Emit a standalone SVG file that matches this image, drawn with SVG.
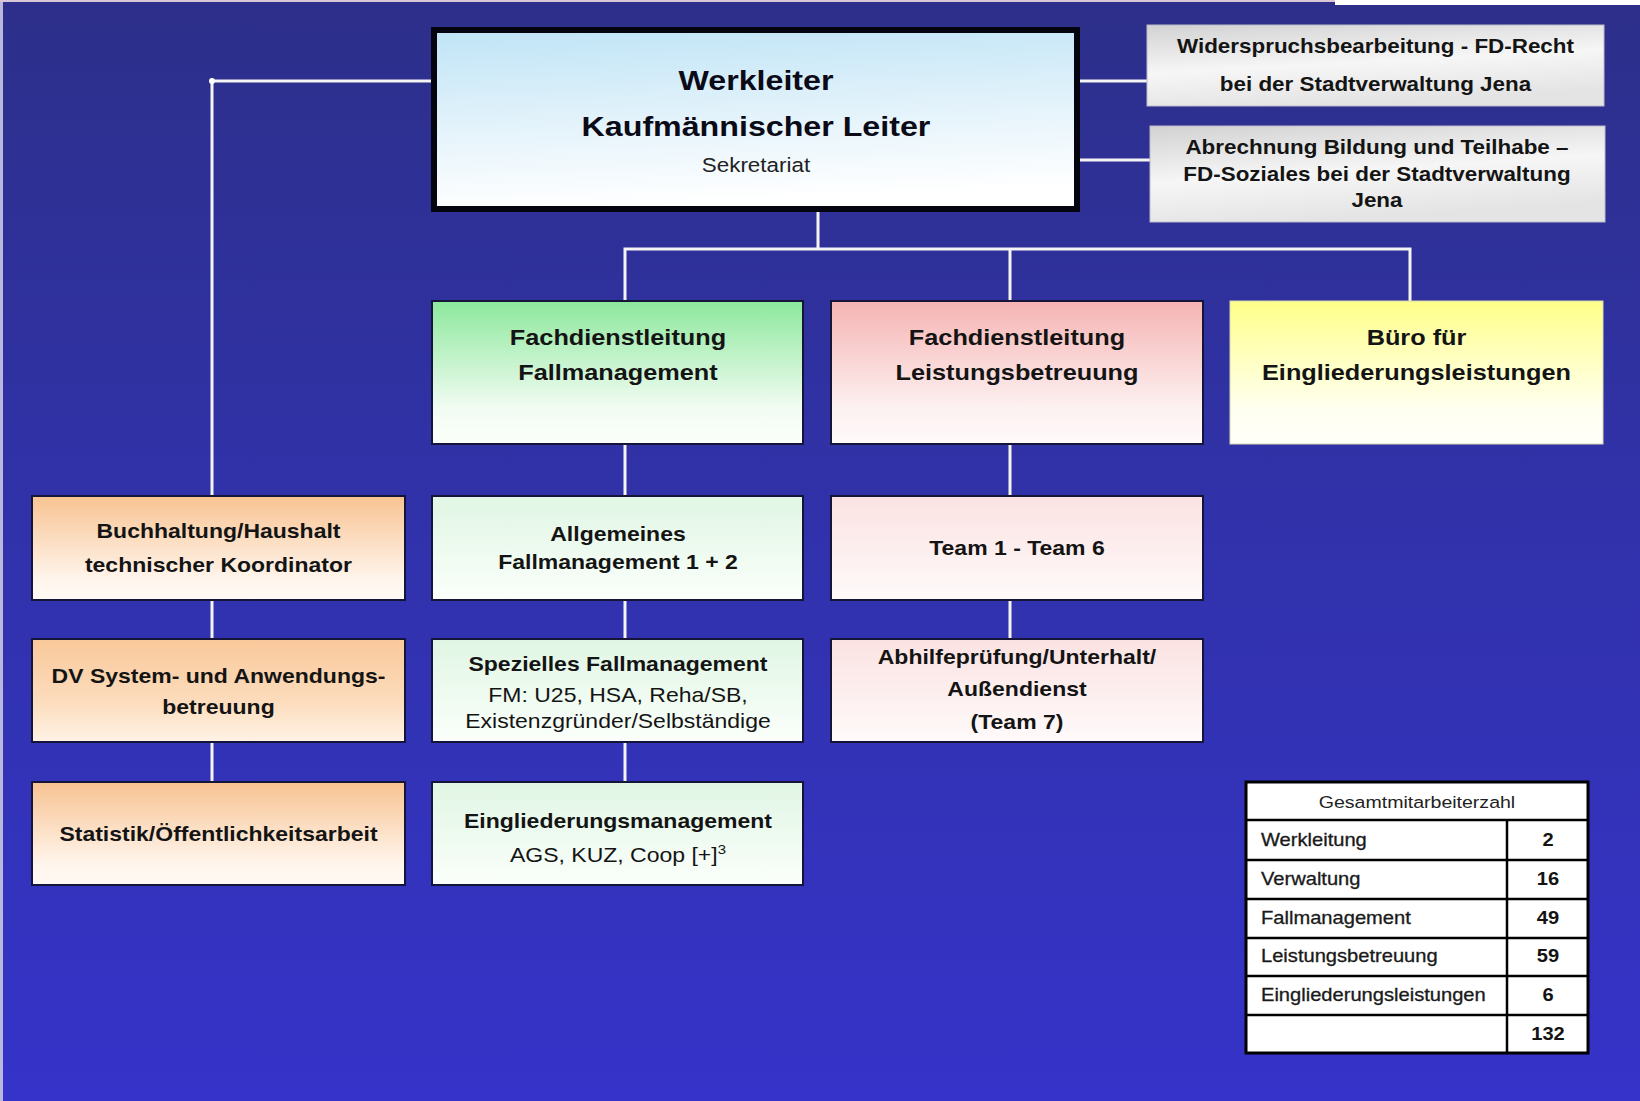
<svg xmlns="http://www.w3.org/2000/svg" width="1640" height="1101" viewBox="0 0 1640 1101">
<defs>
<linearGradient id="bg" x1="0" y1="0" x2="0" y2="1">
<stop offset="0" stop-color="#2d2f8a"/>
<stop offset="0.5" stop-color="#3132ac"/>
<stop offset="1" stop-color="#3533c9"/>
</linearGradient>
<linearGradient id="gBlue" x1="0" y1="0" x2="0.15" y2="1">
<stop offset="0" stop-color="#bfe4f6"/>
<stop offset="0.55" stop-color="#e4f3fb"/>
<stop offset="1" stop-color="#ffffff"/>
</linearGradient>
<linearGradient id="gGray" x1="0" y1="0" x2="0.3" y2="1">
<stop offset="0" stop-color="#d2d2d2"/>
<stop offset="0.55" stop-color="#f6f6f6"/>
<stop offset="1" stop-color="#e4e4e4"/>
</linearGradient>
<linearGradient id="gGreen" x1="0" y1="0" x2="0" y2="1">
<stop offset="0" stop-color="#8ce89c"/>
<stop offset="0.75" stop-color="#f2fcf3"/>
<stop offset="1" stop-color="#fbfffb"/>
</linearGradient>
<linearGradient id="gPink" x1="0" y1="0" x2="0" y2="1">
<stop offset="0" stop-color="#f6b3b3"/>
<stop offset="0.75" stop-color="#fdf1f1"/>
<stop offset="1" stop-color="#fffafa"/>
</linearGradient>
<linearGradient id="gYellow" x1="0" y1="0" x2="0" y2="1">
<stop offset="0" stop-color="#ffff8a"/>
<stop offset="0.75" stop-color="#fffff0"/>
<stop offset="1" stop-color="#fffffa"/>
</linearGradient>
<linearGradient id="gPeach" x1="0" y1="0" x2="0" y2="1">
<stop offset="0" stop-color="#f8c392"/>
<stop offset="0.8" stop-color="#fff5ec"/>
<stop offset="1" stop-color="#fffaf5"/>
</linearGradient>
<linearGradient id="gPeach2" x1="0" y1="0" x2="0" y2="1">
<stop offset="0" stop-color="#f9c89a"/>
<stop offset="0.6" stop-color="#fcdcbc"/>
<stop offset="1" stop-color="#fff3e6"/>
</linearGradient>
<linearGradient id="gLGreen" x1="0" y1="0" x2="0" y2="1">
<stop offset="0" stop-color="#e0f6e4"/>
<stop offset="1" stop-color="#fbfffb"/>
</linearGradient>
<linearGradient id="gLPink" x1="0" y1="0" x2="0" y2="1">
<stop offset="0" stop-color="#fbe2e2"/>
<stop offset="1" stop-color="#fffafa"/>
</linearGradient>
</defs>
<style>
text { font-family: "Liberation Sans", Arial, sans-serif; fill: #141414; text-anchor: middle; }
.s { transform-box: fill-box; transform-origin: center; transform: scaleX(1.15); }
.sl { transform-box: fill-box; transform-origin: left center; transform: scaleX(1.15); text-anchor: start; }
.b { font-weight: bold; }
.box { stroke: #15153a; stroke-width: 2; }
.nob { stroke: none; }
.head { font-size: 28px; font-weight: bold; fill: #0b0b18; }
.h2 { font-size: 22px; font-weight: bold; }
.lb { font-size: 20px; font-weight: bold; }
.lr { font-size: 20px; }
.tr { font-size: 19.5px; font-weight: bold; }
.conn { stroke: #f4f4f4; stroke-width: 3; fill: none; }
.tbl { fill: #ffffff; stroke: #000000; stroke-width: 3; }
.tline { stroke: #000000; stroke-width: 2.5; }
.tlab { font-size: 17.5px; fill: #1a1a1a; stroke: #1a1a1a; stroke-width: 0.3; }
.tnum { font-size: 17.5px; font-weight: bold; }
</style>
<rect x="0" y="0" width="1640" height="1101" fill="url(#bg)"/>
<rect x="0" y="0" width="3" height="1101" fill="#b9b9de"/>
<rect x="0" y="0" width="1335" height="2" fill="#d9c6d6"/>
<rect x="1335" y="0" width="305" height="5" fill="#ffffff"/>

<g id="connectors">
<polyline class="conn" points="431,81 212,81 212,496"/>
<circle cx="212" cy="81" r="3" fill="#ffffff"/>
<line class="conn" x1="1080" y1="81" x2="1147" y2="81"/>
<line class="conn" x1="1080" y1="160" x2="1150" y2="160"/>
<line class="conn" x1="818" y1="212" x2="818" y2="249"/>
<polyline class="conn" points="625,301 625,249 1410,249 1410,301"/>
<line class="conn" x1="1010" y1="249" x2="1010" y2="301"/>
<line class="conn" x1="625" y1="444" x2="625" y2="496"/>
<line class="conn" x1="625" y1="600" x2="625" y2="639"/>
<line class="conn" x1="625" y1="742" x2="625" y2="782"/>
<line class="conn" x1="1010" y1="444" x2="1010" y2="496"/>
<line class="conn" x1="1010" y1="600" x2="1010" y2="639"/>
<line class="conn" x1="212" y1="600" x2="212" y2="639"/>
<line class="conn" x1="212" y1="742" x2="212" y2="782"/>
</g>

<g id="werkleiter">
<rect x="434" y="30" width="643" height="179" fill="url(#gBlue)" stroke="#05050f" stroke-width="6"/>
<text class="head s" x="756" y="90.5">Werkleiter</text>
<text class="head s" x="756" y="136.5">Kaufmännischer Leiter</text>
<text class="s" x="756" y="172.5" style="font-size:19.5px;fill:#222">Sekretariat</text>
</g>

<g id="widerspruch">
<rect x="1147" y="25" width="457" height="81" fill="url(#gGray)" stroke="#bcbcc8" stroke-width="1"/>
<text class="tr s" x="1375.5" y="53">Widerspruchsbearbeitung - FD-Recht</text>
<text class="tr s" x="1375.5" y="91.5">bei der Stadtverwaltung Jena</text>
</g>

<g id="abrechnung">
<rect x="1150" y="126" width="455" height="96" fill="url(#gGray)" stroke="#bcbcc8" stroke-width="1"/>
<text class="tr s" x="1377" y="154.5">Abrechnung Bildung und Teilhabe –</text>
<text class="tr s" x="1377" y="181.5">FD-Soziales bei der Stadtverwaltung</text>
<text class="tr s" x="1377" y="207.5">Jena</text>
</g>

<g id="fd-fallmanagement">
<rect class="box" x="432" y="301" width="371" height="143" fill="url(#gGreen)"/>
<text class="h2 s" x="618" y="345.5">Fachdienstleitung</text>
<text class="h2 s" x="618" y="380">Fallmanagement</text>
</g>

<g id="fd-leistungsbetreuung">
<rect class="box" x="831" y="301" width="372" height="143" fill="url(#gPink)"/>
<text class="h2 s" x="1017" y="345.5">Fachdienstleitung</text>
<text class="h2 s" x="1017" y="380">Leistungsbetreuung</text>
</g>

<g id="buero">
<rect x="1230" y="301" width="373" height="143" fill="url(#gYellow)" stroke="#d8d8b0" stroke-width="1"/>
<text class="h2 s" x="1416.5" y="345.5">Büro für</text>
<text class="h2 s" x="1416.5" y="380">Eingliederungsleistungen</text>
</g>

<g id="buchhaltung">
<rect class="box" x="32" y="496" width="373" height="104" fill="url(#gPeach)"/>
<text class="lb s" x="218.5" y="538.5">Buchhaltung/Haushalt</text>
<text class="lb s" x="218.5" y="572">technischer Koordinator</text>
</g>

<g id="dv">
<rect class="box" x="32" y="639" width="373" height="103" fill="url(#gPeach2)"/>
<text class="lb s" x="218.5" y="683">DV System- und Anwendungs-</text>
<text class="lb s" x="218.5" y="714">betreuung</text>
</g>

<g id="statistik">
<rect class="box" x="32" y="782" width="373" height="103" fill="url(#gPeach)"/>
<text class="lb s" x="218.5" y="841">Statistik/Öffentlichkeitsarbeit</text>
</g>

<g id="allgemeines">
<rect class="box" x="432" y="496" width="371" height="104" fill="url(#gLGreen)"/>
<text class="lb s" x="618" y="541.5">Allgemeines</text>
<text class="lb s" x="618" y="569">Fallmanagement 1 + 2</text>
</g>

<g id="spezielles">
<rect class="box" x="432" y="639" width="371" height="103" fill="url(#gLGreen)"/>
<text class="lb s" x="618" y="671">Spezielles Fallmanagement</text>
<text class="lr s" x="618" y="702.5">FM: U25, HSA, Reha/SB,</text>
<text class="lr s" x="618" y="728">Existenzgründer/Selbständige</text>
</g>

<g id="eingliederungsmanagement">
<rect class="box" x="432" y="782" width="371" height="103" fill="url(#gLGreen)"/>
<text class="lb s" x="618" y="828">Eingliederungsmanagement</text>
<text class="lr s" x="618" y="862">AGS, KUZ, Coop [+]<tspan font-size="13" dy="-8">3</tspan></text>
</g>

<g id="team1-6">
<rect class="box" x="831" y="496" width="372" height="104" fill="url(#gLPink)"/>
<text class="lb s" x="1017" y="555">Team 1 - Team 6</text>
</g>

<g id="abhilfe">
<rect class="box" x="831" y="639" width="372" height="103" fill="url(#gLPink)"/>
<text class="lb s" x="1017" y="664">Abhilfeprüfung/Unterhalt/</text>
<text class="lb s" x="1017" y="696.5">Außendienst</text>
<text class="lb s" x="1017" y="729">(Team 7)</text>
</g>

<g id="tabelle">
<rect class="tbl" x="1246" y="782" width="342" height="271"/>
<line class="tline" x1="1246" y1="820" x2="1588" y2="820"/>
<line class="tline" x1="1246" y1="860" x2="1588" y2="860"/>
<line class="tline" x1="1246" y1="899" x2="1588" y2="899"/>
<line class="tline" x1="1246" y1="938" x2="1588" y2="938"/>
<line class="tline" x1="1246" y1="976" x2="1588" y2="976"/>
<line class="tline" x1="1246" y1="1015" x2="1588" y2="1015"/>
<line class="tline" x1="1507" y1="820" x2="1507" y2="1053"/>
<text class="s" x="1417" y="808" style="font-size:17px;fill:#222">Gesamtmitarbeiterzahl</text>
<text class="tlab sl" x="1261" y="846.5">Werkleitung</text>
<text class="tlab sl" x="1261" y="885">Verwaltung</text>
<text class="tlab sl" x="1261" y="924.5">Fallmanagement</text>
<text class="tlab sl" x="1261" y="962.5">Leistungsbetreuung</text>
<text class="tlab sl" x="1261" y="1001">Eingliederungsleistungen</text>
<text class="tnum s" x="1548" y="846.5">2</text>
<text class="tnum s" x="1548" y="885">16</text>
<text class="tnum s" x="1548" y="924.5">49</text>
<text class="tnum s" x="1548" y="962.5">59</text>
<text class="tnum s" x="1548" y="1001">6</text>
<text class="tnum s" x="1548" y="1040.5">132</text>
</g>
</svg>
